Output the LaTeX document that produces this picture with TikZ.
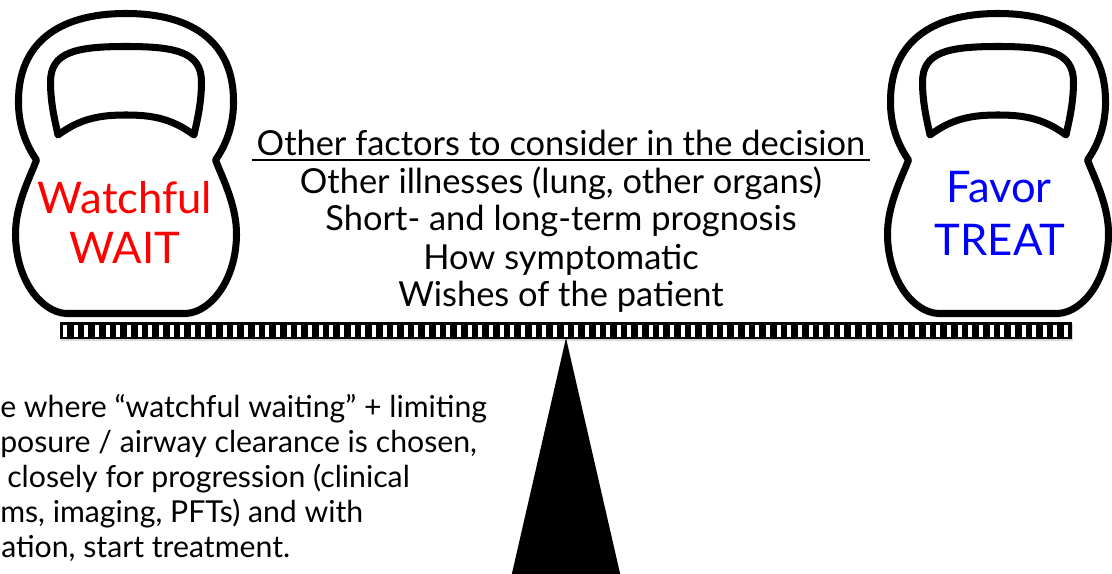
\documentclass[tikz,border=0pt]{standalone}
\usepackage{fontspec}
\setmainfont{Lato}
\usepackage{xcolor}
\usetikzlibrary{shadows}

\begin{document}
\begin{tikzpicture}[x=0.25mm, y=-0.25mm,
    bell/.style={line width=5pt, line join=round},
    weight/.style={anchor=base, font=\fontsize{31}{36}\selectfont},
    factor/.style={anchor=base, font=\fontsize{24.5}{29}\selectfont},
    note/.style={anchor=base west, inner sep=0pt, font=\fontsize{21.5}{26}\selectfont}]
  \useasboundingbox (0,0) rectangle (1112,574);
  \clip (0,0) rectangle (1112,574);
  % the two kettlebells
  \foreach \cx in {126,998} {
    \begin{scope}[shift={(\cx,0)}]
      \draw[bell] (0,13.5) .. controls (70,13.5) and (107,45) .. (107.5,100)
        .. controls (108,125) and (100,145) .. (89.5,160)
        .. controls (95,175) and (111,205) .. (110.5,235)
        .. controls (110,280) and (85,312) .. (60,313.5)
        -- (-60,313.5)
        .. controls (-85,312) and (-110,280) .. (-110.5,235)
        .. controls (-111,205) and (-95,175) .. (-89.5,160)
        .. controls (-100,145) and (-108,125) .. (-107.5,100)
        .. controls (-107,45) and (-70,13.5) .. cycle;
      \draw[bell] (0,46.5) .. controls (50,46.5) and (75.5,52) .. (75.5,82)
        .. controls (75.5,105) and (70,125) .. (68,135)
        .. controls (45,118) and (25,115) .. (0,115)
        .. controls (-25,115) and (-45,118) .. (-68,135)
        .. controls (-70,125) and (-75.5,105) .. (-75.5,82)
        .. controls (-75.5,52) and (-50,46.5) .. cycle;
    \end{scope}
  }
  \node[weight, red]  (watchful) at (125,213) {Watchful};
  \node[weight, red]  (wait)     at (125,263) {WAIT};
  \node[weight, blue] (favor)    at (999,203) {Favor};
  \node[weight, blue] (treat)    at (1000,255) {TREAT};
  % beam with its slats
  \fill[drop shadow={shadow xshift=1pt, shadow yshift=-1.5pt, opacity=0.3}]
    (60,322) rectangle (1072,339);
  \foreach \i in {0,...,94}
    \fill[white] ({63+\i*10.65},325) rectangle ++(4,12);
  % fulcrum
  \fill (566,338) -- (622,582) -- (510,582) -- cycle;
  % what else goes on the scale
  \node[factor] (hdr) at (561,156) {Other factors to consider in the decision};
  \draw[line width=1.9pt] ([yshift=-1mm]hdr.base west) -- ([yshift=-1mm]hdr.base east);
  \node[factor] (ill)    at (561,194) {Other illnesses (lung, other organs)};
  \node[factor] (prog)   at (561,231) {Short- and long-term prognosis};
  \node[factor] (symp)   at (561,269) {How symptomatic};
  \node[factor] (wishes) at (561,306) {Wishes of the patient};
  % monitoring note along the left edge
  \node[note] (n1) at (0,417) {e where “watchful waiting” + limiting};
  \node[note] (n2) at (0,452) {posure / airway clearance is chosen,};
  \node[note] (n3) at (7,487) {closely for progression (clinical};
  \node[note] (n4) at (0,522) {ms, imaging, PFTs) and with};
  \node[note] (n5) at (1,557) {ation, start treatment.};
\end{tikzpicture}
\end{document}
